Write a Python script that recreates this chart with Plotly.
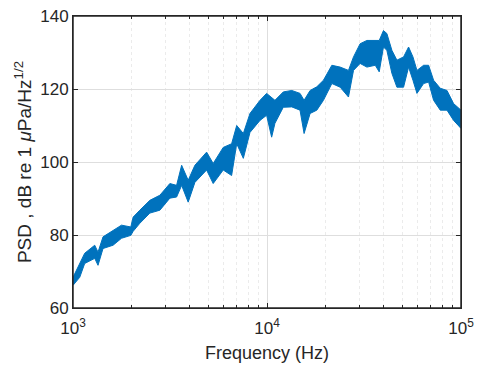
import plotly.graph_objects as go

freq_hz = [1000, 1083, 1149, 1294, 1346, 1428, 1609, 1778, 1986, 2042, 2210, 2489,
           2805, 3157, 3419, 3631, 3925, 4249, 4883, 5280, 5948, 6571, 6980, 7551,
           8170, 9204, 9955, 10568, 10990, 12130, 13420, 14800, 15530, 16680, 18060,
           19540, 21590, 23830, 26300, 27920, 30200, 32730, 36140, 37880, 39840,
           41480, 44030, 46740, 50580, 53680, 56530, 59290, 64160, 68090, 72240,
           78200, 84660, 91570, 100000]
psd_upper = [68.4, 72.2, 75.0, 77.2, 75.3, 79.5, 81.3, 82.7, 82.2, 84.9, 86.8, 89.5,
             90.9, 94.1, 93.6, 99.1, 95.0, 99.1, 102.7, 99.6, 104.0, 105.0, 110.0, 107.8,
             113.3, 116.9, 118.8, 117.8, 116.9, 119.2, 119.6, 118.8, 116.9, 119.6, 120.6,
             122.4, 126.5, 126.0, 125.1, 128.8, 132.4, 133.3, 133.3, 133.3, 136.0,
             135.2, 130.6, 127.9, 128.8, 131.5, 128.8, 125.1, 126.5, 126.5, 122.4,
             120.2, 119.6, 116.0, 114.2]
psd_lower = [66.2, 68.4, 72.2, 73.6, 71.7, 76.3, 77.2, 79.1, 79.9, 81.0, 83.2, 86.0,
             86.8, 90.1, 90.4, 93.6, 89.0, 94.4, 97.8, 94.1, 97.8, 96.3, 105.0, 101.0,
             108.1, 111.4, 112.8, 106.8, 110.6, 115.0, 115.1, 114.2, 107.8, 113.3, 114.2,
             116.9, 121.5, 120.5, 117.8, 125.1, 127.0, 126.0, 126.5, 124.7, 131.5,
             130.6, 124.3, 120.5, 120.5, 126.0, 122.4, 118.8, 121.5, 121.9, 116.9,
             114.2, 114.2, 111.4, 109.2]

y_ticks = [60, 80, 100, 120, 140]
x_major = [1e3, 1e4, 1e5]
x_major_text = ["10<sup>3</sup>", "10<sup>4</sup>", "10<sup>5</sup>"]
x_minor = [m * d for d in (1e3, 1e4) for m in range(2, 10)]

blue = "#0072BD"
axis_col = "#262626"
fig = go.Figure()
fig.add_trace(go.Scatter(x=freq_hz, y=psd_lower, mode="lines",
                         line=dict(color=blue, width=1), showlegend=False))
fig.add_trace(go.Scatter(x=freq_hz, y=psd_upper, mode="lines", fill="tonexty",
                         fillcolor=blue, line=dict(color=blue, width=1), showlegend=False))

font = "Liberation Sans, Arial, sans-serif"
# page body has an 8px margin, so the figure is sized/offset to compensate
fig.update_layout(
    width=475, height=357,
    margin=dict(l=65, r=22, t=8, b=57),
    plot_bgcolor="white", paper_bgcolor="white",
    font=dict(family=font, size=17, color=axis_col),
    shapes=[dict(type="rect", xref="paper", yref="paper", x0=0, x1=1, y0=0, y1=1,
                 line=dict(color=axis_col, width=1.5), layer="above")],
)
fig.update_xaxes(
    type="log", range=[3, 5], automargin=False, ticklabeloverflow="allow",
    tickmode="array", tickvals=x_major, ticktext=x_major_text,
    ticks="inside", ticklen=5, tickcolor=axis_col,
    showline=True, linecolor=axis_col, linewidth=1, mirror="ticks",
    showgrid=True, gridcolor="#dedede", gridwidth=1,
    tickfont=dict(size=17), ticklabelstandoff=5,
    title=dict(text="Frequency (Hz)", font=dict(size=18), standoff=8),
    minor=dict(tickmode="array", tickvals=x_minor, ticks="inside", ticklen=3,
               tickcolor=axis_col, showgrid=True, gridcolor="#ebebeb",
               griddash="dot", gridwidth=1),
    zeroline=False,
)
fig.update_yaxes(
    range=[60, 140], automargin=False, ticklabeloverflow="allow",
    tickmode="array", tickvals=y_ticks,
    ticks="inside", ticklen=5, tickcolor=axis_col,
    showline=True, linecolor=axis_col, linewidth=1, mirror="ticks",
    showgrid=True, gridcolor="#dedede", gridwidth=1,
    tickfont=dict(size=17),
    title=dict(text="PSD , dB re 1 <i>μ</i>Pa/Hz<sup>1/2</sup>", font=dict(size=19), standoff=3),
    zeroline=False,
)
fig.write_html("out.html")
